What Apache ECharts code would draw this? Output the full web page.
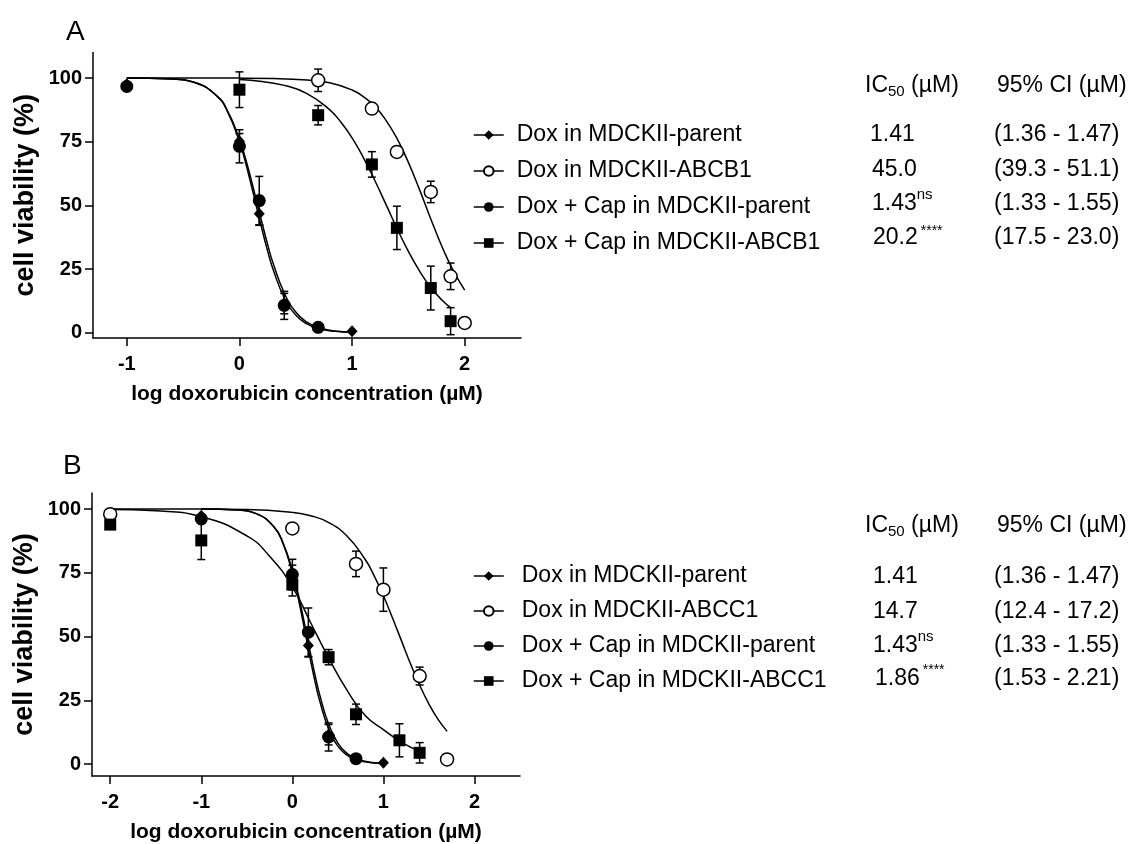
<!DOCTYPE html>
<html>
<head>
<meta charset="utf-8">
<script src="https://cdn.jsdelivr.net/npm/echarts@6/dist/echarts.min.js"></script>
<style>
  html, body { margin: 0; background: #fff; }
  #main { width: 1129px; height: 844px; }
</style>
</head>
<body>
<div id="main"></div>
<script>
// ---------- data ----------
// log10 concentration (uM) of the parent-cell wells
var xParent = [-1, 0, 0.176, 0.398, 0.699, 1];

// panel A (ABCB1)
var yDoxParentA = [97.5, 75.2, 46.7, 11.5, 2.0, 0.6];
var eDoxParentA = [0, 3, 4.5, 4, 0, 0];
var yCapParentA = [96.7, 73.2, 51.9, 10.8, 2.2];
var eCapParentA = [0, 6.5, 9.5, 5.5, 0];
var xDoxB1 = [0.699, 1.176, 1.398, 1.699, 1.875, 2.0];
var yDoxB1 = [99.1, 88.0, 71.0, 55.3, 22.2, 3.9];
var eDoxB1 = [4.4, 0, 2, 4.2, 5.2, 0];
var xCapB1 = [0, 0.699, 1.176, 1.398, 1.699, 1.875];
var yCapB1 = [95.4, 85.4, 66.1, 41.2, 17.6, 4.6];
var eCapB1 = [7, 3.8, 5, 8.5, 8.6, 5.3];

// panel B (ABCC1)
var yDoxParentB = [97.4, 75.0, 46.5, 11.5, 2.0, 0.5];
var eDoxParentB = [0, 3, 4.5, 4, 0, 0];
var yCapParentB = [96.1, 74.3, 51.7, 10.6, 2.1];
var eCapParentB = [0, 6, 9.5, 5.5, 0];
var xDoxC1 = [-2, 0, 0.699, 1.0, 1.398, 1.699];
var yDoxC1 = [98.0, 92.4, 78.5, 68.4, 34.5, 1.8];
var eDoxC1 = [0, 0, 5, 8.5, 3.5, 0];
var xCapC1 = [-2, -1, 0, 0.398, 0.699, 1.176, 1.398];
var yCapC1 = [93.9, 87.7, 70.4, 41.9, 19.5, 9.3, 4.4];
var eCapC1 = [1, 7.5, 4.5, 3, 4, 6.5, 4];

// fitted curves, sampled off the figure
var cxParent = [-1, -0.6, -0.4, -0.2, -0.1, 0, 0.05, 0.1, 0.15, 0.2, 0.25, 0.3, 0.4, 0.5, 0.6, 0.7, 0.85, 1.0];
var cyDoxParent = [100, 99.6, 98.3, 92.9, 86.2, 75.0, 67.5, 58.9, 49.8, 40.7, 32.2, 24.8, 13.6, 7.0, 3.5, 1.7, 0.6, 0.2];
var cyCapParent = [100, 99.6, 98.2, 93.0, 86.6, 76.0, 69.0, 60.9, 52.1, 43.3, 34.8, 27.2, 15.5, 8.2, 4.2, 2.1, 0.7, 0.3];
var cxDoxB1 = [-1, 0, 0.3, 0.6, 0.8, 1.0, 1.1, 1.2, 1.3, 1.4, 1.5, 1.6, 1.7, 1.8, 1.9, 2.0];
var cyDoxB1 = [100, 99.95, 99.8, 99.2, 98.1, 95.3, 92.7, 89.0, 83.5, 76.2, 66.9, 56.1, 44.6, 33.7, 24.3, 16.8];
var cxCapB1 = [0, 0.2, 0.4, 0.6, 0.8, 0.9, 1.0, 1.1, 1.2, 1.3, 1.4, 1.5, 1.6, 1.7, 1.8, 1.875];
var cyCapB1 = [99.4, 98.6, 97.1, 93.9, 87.6, 82.7, 76.5, 68.8, 60.0, 50.5, 40.9, 32.0, 24.2, 17.8, 12.8, 9.9];
var cxDoxC1 = [-2, -1, -0.5, 0, 0.2, 0.4, 0.6, 0.8, 0.9, 1.0, 1.1, 1.2, 1.3, 1.4, 1.5, 1.6, 1.7];
var cyDoxC1 = [100, 100, 99.8, 98.7, 97.4, 94.7, 89.4, 80.2, 73.7, 66.0, 57.3, 48.2, 39.1, 30.8, 23.5, 17.5, 12.8];
var cxCapC1 = [-2, -1.5, -1, -0.5, -0.25, 0, 0.2, 0.4, 0.6, 0.8, 1.0, 1.2, 1.4];
var cyCapC1 = [99.8, 99.3, 97.0, 89.5, 81.5, 69.5, 55.5, 41.5, 29.0, 19.0, 13.5, 8.5, 5.0];

// legend and table text
var namesA = ['Dox in MDCKII-parent', 'Dox in MDCKII-ABCB1', 'Dox + Cap in MDCKII-parent', 'Dox + Cap in MDCKII-ABCB1'];
var namesB = ['Dox in MDCKII-parent', 'Dox in MDCKII-ABCC1', 'Dox + Cap in MDCKII-parent', 'Dox + Cap in MDCKII-ABCC1'];
var icA = ['1.41', '45.0', '1.43', '20.2'];
var icB = ['1.41', '14.7', '1.43', '1.86'];
var sigMark = ['', '', 'ns', '****'];
var ciA = ['(1.36 - 1.47)', '(39.3 - 51.1)', '(1.33 - 1.55)', '(17.5 - 23.0)'];
var ciB = ['(1.36 - 1.47)', '(12.4 - 17.2)', '(1.33 - 1.55)', '(1.53 - 2.21)'];
var yTicks = [0, 25, 50, 75, 100];
var xTicksA = [-1, 0, 1, 2];
var xTicksB = [-2, -1, 0, 1, 2];

var FONT = '"Liberation Sans", Arial, sans-serif';
var chart = echarts.init(document.getElementById('main'));

// width of a table value, to place its superscript right after it
var measureCtx = document.createElement('canvas').getContext('2d');
measureCtx.font = '23px ' + FONT;
function textW(s) { return measureCtx.measureText(s).width; }

function zip(xs, ys) {
    return ys.map(function (y, i) { return [xs[i], y]; });
}
function errs(xs, ys, es) {
    var out = [];
    ys.forEach(function (y, i) {
        if (es[i] > 0) out.push([xs[i], y - es[i], y + es[i]]);
    });
    return out;
}

function xAxisFor(g, min, max, ticks) {
    return {
        type: 'value', gridIndex: g, min: min, max: max,
        name: 'log doxorubicin concentration (µM)', nameLocation: 'middle', nameGap: 46,
        nameTextStyle: { fontSize: 21, fontWeight: 'bold', color: '#000', fontFamily: FONT },
        axisLine: { onZero: false, lineStyle: { color: '#000', width: 1.5 } },
        axisTick: { show: true, length: 8, customValues: ticks, lineStyle: { color: '#000', width: 1.5 } },
        axisLabel: { customValues: ticks, fontSize: 20, fontWeight: 'bold', color: '#000', margin: 16, fontFamily: FONT },
        splitLine: { show: false }
    };
}
function yAxisFor(g, min, max) {
    return {
        type: 'value', gridIndex: g, min: min, max: max,
        name: 'cell viability (%)', nameLocation: 'middle', nameRotate: 90, nameGap: 54,
        nameTextStyle: { fontSize: 27, fontWeight: 'bold', color: '#000', fontFamily: FONT },
        axisLine: { show: true, onZero: false, lineStyle: { color: '#000', width: 1.5 } },
        axisTick: { show: true, length: 8, customValues: yTicks, lineStyle: { color: '#000', width: 1.5 } },
        axisLabel: { customValues: yTicks, fontSize: 20, fontWeight: 'bold', color: '#000', margin: 11, fontFamily: FONT },
        splitLine: { show: false }
    };
}

function curve(name, g, xs, ys, sym) {
    return {
        name: name, type: 'line', xAxisIndex: g, yAxisIndex: g,
        data: zip(xs, ys), smooth: 0.5,
        symbol: sym, showSymbol: false, color: '#000',
        lineStyle: { color: '#000', width: 1.5 }, z: 2, silent: true
    };
}
function marks(name, g, xs, ys, sym, size, open) {
    return {
        name: name, type: 'scatter', xAxisIndex: g, yAxisIndex: g,
        data: zip(xs, ys), symbol: sym, symbolSize: size,
        itemStyle: open ? { color: '#fff', borderColor: '#000', borderWidth: 1.5, opacity: 1 } : { color: '#000', opacity: 1 },
        z: 4
    };
}
function bars(g, data) {
    return {
        type: 'custom', xAxisIndex: g, yAxisIndex: g, data: data, z: 3, silent: true,
        encode: { x: 0, y: [1, 2] },
        renderItem: function (params, api) {
            var hi = api.coord([api.value(0), api.value(2)]);
            var lo = api.coord([api.value(0), api.value(1)]);
            var w = 4, st = { stroke: '#000', lineWidth: 1.5 };
            return {
                type: 'group', children: [
                    { type: 'line', shape: { x1: hi[0], y1: hi[1], x2: lo[0], y2: lo[1] }, style: st },
                    { type: 'line', shape: { x1: hi[0] - w, y1: hi[1], x2: hi[0] + w, y2: hi[1] }, style: st },
                    { type: 'line', shape: { x1: lo[0] - w, y1: lo[1], x2: lo[0] + w, y2: lo[1] }, style: st }
                ]
            };
        }
    };
}

function legendFor(names, top, gap, pad) {
    return {
        data: names, orient: 'vertical', left: 473, top: top, padding: 0,
        itemWidth: 30, itemHeight: 12, itemGap: gap, selectedMode: false,
        lineStyle: { color: '#000', width: 1.5, opacity: 1 },
        textStyle: { fontSize: 23, lineHeight: 24, color: '#000', fontFamily: FONT, padding: [0, 0, 0, pad] }
    };
}

var rich = {
    m: { fontSize: 23, lineHeight: 26, fontFamily: FONT, color: '#000' },
    sub: { fontSize: 15, lineHeight: 15, verticalAlign: 'bottom', fontFamily: FONT, color: '#000' }
};
function txt(x, y, s) {
    return { type: 'text', x: x, y: y, style: { text: s, rich: rich, verticalAlign: 'middle', align: 'left' } };
}
function supTxt(x, y, s, size) {
    return { type: 'text', x: x, y: y, style: { text: s, fontSize: size, fontFamily: FONT, fill: '#000', verticalAlign: 'middle', align: 'left' } };
}
function table(icX, ciX, headY, rows, ics, cis, starDy) {
    var out = [
        txt(865, headY, '{m|IC}{sub|50}{m| (µM)}'),
        txt(997, headY, '{m|95% CI (µM)}')
    ];
    rows.forEach(function (y, i) {
        out.push(txt(icX[i], y, '{m|' + ics[i] + '}'));
        out.push(txt(ciX, y, '{m|' + cis[i] + '}'));
        var mark = sigMark[i];
        if (mark === 'ns') out.push(supTxt(icX[i] + textW(ics[i]), y - 9, mark, 15));
        else if (mark) out.push(supTxt(icX[i] + textW(ics[i]) + 3, y - starDy, mark, 14));
    });
    return out;
}

var graphics = [
    { type: 'text', x: 66, y: 32, style: { text: 'A', fontSize: 28, fontFamily: FONT, fill: '#000', verticalAlign: 'middle' } },
    { type: 'text', x: 63, y: 466, style: { text: 'B', fontSize: 28, fontFamily: FONT, fill: '#000', verticalAlign: 'middle' } }
].concat(
    table([870, 872, 872, 873], 994, 86, [135, 170, 204, 238], icA, ciA, 7),
    table([873, 873, 873, 875], 994, 526, [577, 612, 646, 679], icB, ciB, 9)
);

var option = {
    backgroundColor: '#fff',
    animation: false,
    grid: [
        { left: 93, top: 52.5, width: 428, height: 285.5 },
        { left: 92, top: 493, width: 428, height: 284 }
    ],
    xAxis: [xAxisFor(0, -1.3, 2.5, xTicksA), xAxisFor(1, -2.2, 2.5, xTicksB)],
    yAxis: [yAxisFor(0, -2, 110), yAxisFor(1, -4.7, 106.3)],
    legend: [legendFor(namesA, 123, 12, 8), legendFor(namesB, 564, 11, 13)],
    graphic: graphics,
    series: [
        // curves first so the legend takes its icons from them
        curve(namesA[0], 0, cxParent, cyDoxParent, 'diamond'),
        curve(namesA[1], 0, cxDoxB1, cyDoxB1, 'emptyCircle'),
        curve(namesA[2], 0, cxParent, cyCapParent, 'circle'),
        curve(namesA[3], 0, cxCapB1, cyCapB1, 'rect'),
        curve(namesB[0], 1, cxParent, cyDoxParent, 'diamond'),
        curve(namesB[1], 1, cxDoxC1, cyDoxC1, 'emptyCircle'),
        curve(namesB[2], 1, cxParent, cyCapParent, 'circle'),
        curve(namesB[3], 1, cxCapC1, cyCapC1, 'rect'),

        bars(0, [].concat(errs(xParent, yDoxParentA, eDoxParentA), errs(xParent, yCapParentA, eCapParentA),
            errs(xDoxB1, yDoxB1, eDoxB1), errs(xCapB1, yCapB1, eCapB1))),
        bars(1, [].concat(errs(xParent, yDoxParentB, eDoxParentB), errs(xParent, yCapParentB, eCapParentB),
            errs(xDoxC1, yDoxC1, eDoxC1), errs(xCapC1, yCapC1, eCapC1))),

        marks(namesA[0], 0, xParent, yDoxParentA, 'diamond', [11, 12], false),
        marks(namesA[2], 0, xParent, yCapParentA, 'circle', 13, false),
        marks(namesA[1], 0, xDoxB1, yDoxB1, 'circle', 13, true),
        marks(namesA[3], 0, xCapB1, yCapB1, 'rect', 12, false),
        marks(namesB[0], 1, xParent, yDoxParentB, 'diamond', [11, 12], false),
        marks(namesB[2], 1, xParent, yCapParentB, 'circle', 13, false),
        marks(namesB[1], 1, xDoxC1, yDoxC1, 'circle', 13, true),
        marks(namesB[3], 1, xCapC1, yCapC1, 'rect', 12, false)
    ]
};
chart.setOption(option);
</script>
</body>
</html>
